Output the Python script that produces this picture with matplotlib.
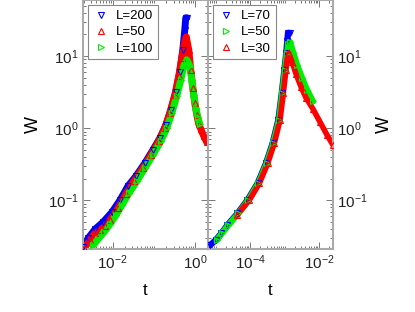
import numpy as np
import matplotlib.pyplot as plt
from matplotlib.ticker import FixedLocator, LogLocator, FuncFormatter, NullFormatter

plt.rcParams["font.family"] = ["Liberation Sans", "DejaVu Sans"]
plt.rcParams["mathtext.default"] = "regular"

# left panel, L = 200 / 50 / 100
left_t_200 = [1.95e-3, 2.57e-3, 3.79e-3, 5.90e-3, 9.73e-3, 0.0152, 0.0236, 0.0368, 0.0607,
              0.0946, 0.140, 0.195, 0.257, 0.339, 0.423, 0.500, 0.558, 0.590, 0.625]
left_w_200 = [0.0225, 0.0299, 0.0399, 0.0500, 0.0689, 0.101, 0.158, 0.217, 0.330,
              0.500, 0.733, 1.11, 1.79, 3.19, 6.05, 12.2, 23.2, 34.0, 34.0]

left_t_50 = [2.06e-3, 2.87e-3, 3.79e-3, 5.0e-3, 6.6e-3, 8.7e-3, 0.0136, 0.0211, 0.0330, 0.0543,
             0.0847, 0.132, 0.184, 0.243, 0.321, 0.400, 0.473, 0.558, 0.607, 0.697, 0.779,
             0.871, 0.973, 1.09, 1.21, 1.36, 1.60, 1.89]
left_w_50 = [0.0217, 0.0281, 0.0352, 0.0387, 0.0440, 0.0532, 0.0782, 0.123, 0.185, 0.281,
             0.426, 0.667, 1.01, 1.63, 2.90, 5.33, 9.47, 15.8, 18.5, 12.2, 6.45,
             3.63, 2.24, 1.53, 1.15, 0.977, 0.780, 0.644]

left_t_100 = [3.39e-3, 4.47e-3, 6.24e-3, 8.7e-3, 0.0121, 0.0169, 0.0250, 0.0389, 0.0607, 0.0946,
              0.148, 0.206, 0.272, 0.358, 0.448, 0.528, 0.624, 0.736, 0.824, 0.920, 1.03,
              1.15, 1.28]
left_w_100 = [0.0239, 0.0290, 0.0363, 0.0469, 0.0625, 0.0861, 0.126, 0.185, 0.281, 0.426,
              0.667, 1.01, 1.63, 2.81, 4.69, 7.33, 8.89, 7.33, 4.69, 2.90, 1.91,
              1.44, 1.15]

# right panel, L = 70 / 50 / 30
right_t_70 = [6.9e-6, 1.0e-5, 1.45e-5, 2.2e-5, 4.3e-5, 8.4e-5, 1.65e-4, 2.9e-4, 4.5e-4,
              6.6e-4, 8.3e-4, 9.9e-4, 1.12e-3, 1.2e-3, 1.26e-3, 1.4e-3]
right_w_70 = [0.0239, 0.0281, 0.0348, 0.0454, 0.0659, 0.101, 0.172, 0.327, 0.620,
              1.30, 3.06, 6.45, 11.0, 16.0, 21.0, 21.0]

right_t_50 = [1.08e-5, 1.51e-5, 2.35e-5, 4.58e-5, 8.93e-5, 1.74e-4, 3.05e-4, 4.73e-4, 6.93e-4,
              8.63e-4, 1.03e-3, 1.16e-3, 1.30e-3, 1.44e-3, 1.76e-3, 2.30e-3, 3.21e-3,
              4.49e-3, 6.70e-3]
right_w_50 = [0.0281, 0.0348, 0.0454, 0.0659, 0.101, 0.172, 0.327, 0.620, 1.30,
              3.06, 6.45, 11.0, 14.5, 15.8, 11.5, 7.6, 5.0,
              3.4, 2.35]

right_t_30 = [4.2e-5, 9.55e-5, 1.86e-4, 3.26e-4, 5.06e-4, 7.41e-4, 9.23e-4, 1.10e-3, 1.24e-3,
              1.31e-3, 1.65e-3, 2.15e-3, 3.01e-3, 4.20e-3, 6.70e-3, 0.0107, 0.0171, 0.0255]
right_w_30 = [0.0625, 0.101, 0.172, 0.327, 0.620, 1.30, 3.06, 6.45, 11.0,
              11.1, 8.33, 5.68, 3.75, 2.64, 1.85, 1.22, 0.808, 0.586]

BLUE, RED, GREEN = "#0000ff", "#ff0000", "#00ee00"
FRAME = "#aaaaaa"


def decade(v, pos):
    return f"$10^{{{int(round(np.log10(v)))}}}$"


def series(ax, t, w, color, marker, label, band=5):
    ax.plot(t, w, "-", color=color, lw=band, zorder=2, solid_capstyle="round")
    ax.plot(t, w, linestyle="none", marker=marker, ms=4.5, mfc="none", mec=color,
            mew=0.8, label=label, zorder=3)


def style(ax, xmajor):
    ax.set_xscale("log")
    ax.set_yscale("log")
    ax.set_ylim(0.021, 60)
    ax.xaxis.set_major_locator(FixedLocator(xmajor))
    ax.xaxis.set_minor_locator(LogLocator(base=10, subs=np.arange(1, 10), numticks=30))
    ax.yaxis.set_major_locator(FixedLocator([0.1, 1, 10]))
    ax.yaxis.set_minor_locator(LogLocator(base=10, subs=np.arange(1, 10), numticks=30))
    for a in (ax.xaxis, ax.yaxis):
        a.set_major_formatter(FuncFormatter(decade))
        a.set_minor_formatter(NullFormatter())
    ax.tick_params(which="both", direction="in", top=True, right=True, left=True,
                   color="#777777", width=0.7, labelsize=11, labelcolor="#222222")
    ax.tick_params(which="major", length=5, pad=3)
    ax.tick_params(which="minor", length=2.5)
    for s in ax.spines.values():
        s.set_color(FRAME)
        s.set_linewidth(1.5)


fig = plt.figure(figsize=(4.15, 3.12), dpi=100)
ax1 = fig.add_axes([0.1993, 0.201, 0.3012, 0.799])
ax2 = fig.add_axes([0.5005, 0.201, 0.3012, 0.799])

series(ax1, left_t_200, left_w_200, BLUE, "v", "L=200")
series(ax1, left_t_50, left_w_50, RED, "^", "L=50")
series(ax1, left_t_100, left_w_100, GREEN, ">", "L=100")
style(ax1, [1e-2, 1e0])
ax1.set_xlim(1.9e-3, 2.0)
ax1.set_xlabel("t", fontsize=12, labelpad=8)
ax1.set_ylabel("W", fontsize=13, labelpad=4)

series(ax2, right_t_70, right_w_70, BLUE, "v", "L=70", band=4.5)
series(ax2, right_t_50, right_w_50, GREEN, ">", "L=50", band=4.5)
series(ax2, right_t_30, right_w_30, RED, "^", "L=30", band=4)
style(ax2, [1e-4, 1e-2])
ax2.set_xlim(5.9e-6, 0.025)
ax2.tick_params(which="both", labelleft=False, labelright=True)
ax2.yaxis.set_label_position("right")
ax2.set_xlabel("t", fontsize=12, labelpad=8)
ax2.set_ylabel("W", fontsize=13, labelpad=6)

for ax in (ax1, ax2):
    leg = ax.legend(loc="upper left", fontsize=9.5, frameon=True, fancybox=False,
                    framealpha=1, edgecolor="#888888", handlelength=1.2,
                    handletextpad=0.6, labelspacing=0.3, borderpad=0.35,
                    borderaxespad=0.4)
    leg.get_frame().set_linewidth(0.8)

fig.savefig("out.png", dpi=100)
